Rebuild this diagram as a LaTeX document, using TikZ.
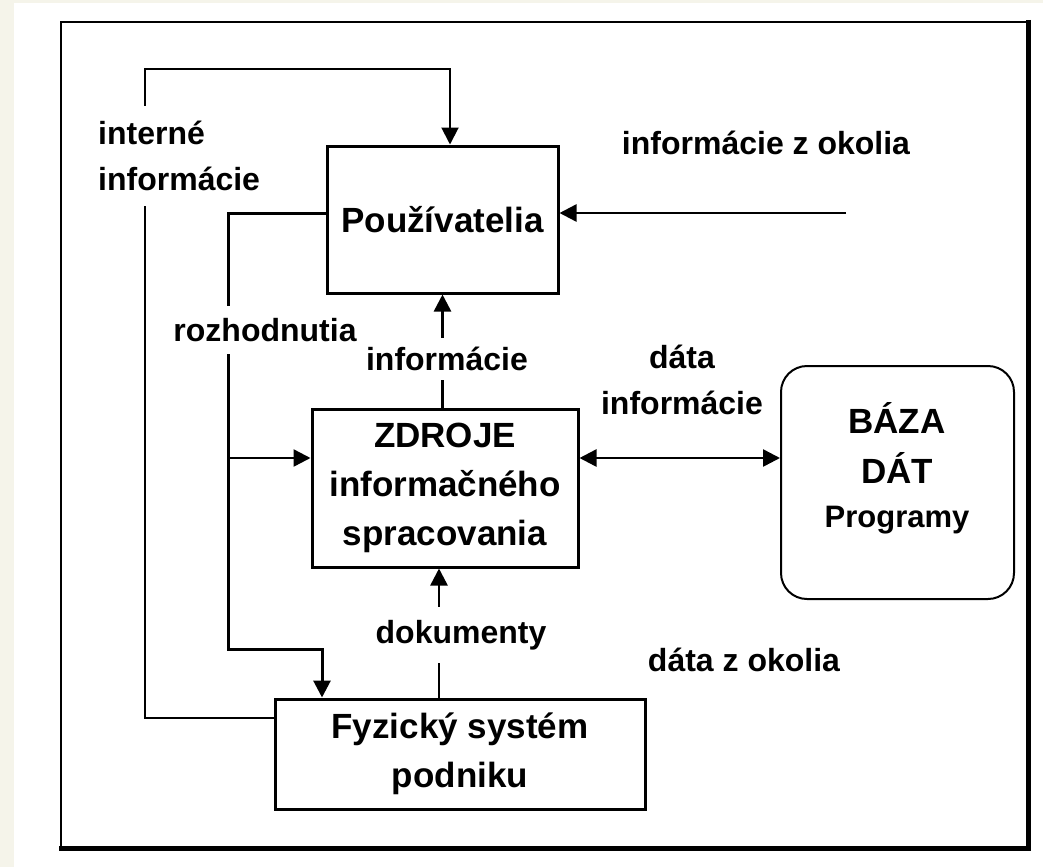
\documentclass[tikz,border=0pt]{standalone}
\usepackage{fontspec}
\setmainfont{Liberation Sans}
\usetikzlibrary{arrows.meta}
\definecolor{cream}{HTML}{F5F4EA}
\begin{document}
\begin{tikzpicture}[x=1pt,y=-1pt,
  >={Triangle[length=17pt,width=17pt]},
  box/.style={draw, line width=3pt, inner sep=0pt, align=center,
    font=\bfseries\fontsize{35}{49}\selectfont},
  lbl/.style={fill=white, inner xsep=2pt, align=center,
    font=\bfseries\fontsize{32}{46}\selectfont},
  thin/.style={line width=2pt},
  thick/.style={line width=3pt},
  mid/.style={line width=2.5pt}]
% background
\fill[cream] (0,0) rectangle (1043,867);
\fill[white] (14,3) rectangle (1043,867);
\useasboundingbox (0,0) rectangle (1043,867);
% frame
\draw[line width=1.5pt] (61,22) rectangle (1027,847);
\draw[line width=5pt] (1028,20) -- (1028,848) -- (59,848);

% boxes
\node[box, minimum width=231pt, minimum height=147pt] (users) at (442.5,219.5) {Používatelia};
\node[box, minimum width=266pt, minimum height=158pt] (zdroje) at (445,488)
  {ZDROJE\\informačného\\spracovania};
\node[box, minimum width=370pt, minimum height=110pt] (fyz) at (460,754)
  {Fyzický systém\\podniku};
\node[draw, line width=2pt, rounded corners=26pt, minimum width=233pt,
  minimum height=233pt, inner sep=0pt] (baza) at (897.5,482.5) {};
\node[align=center, inner sep=0pt, font=\bfseries\fontsize{35}{50}\selectfont] (bazatext) at (897,468)
  {BÁZA\\DÁT\\[-6pt]{\fontsize{31}{44}\selectfont Programy}};

% coordinates
\coordinate (iy) at (0,718);
\coordinate (lp1) at (145,69);
\coordinate (lp2) at (450,69);
\coordinate (rtop) at (228,213);
\coordinate (rbot) at (228,649);
\coordinate (rdown) at (322,649);
\coordinate (my) at (0,458);
\coordinate (dk) at (439,0);
\coordinate (ext) at (846,213);

% interné informácie loop
\draw[thin, ->] (fyz.west |- iy) -| (lp1) -- (lp2) -- (lp2 |- users.north);
% rozhodnutia
\draw[thick, ->] (users.west |- rtop) -- (rtop) -- (rbot) -- (rdown) -- (rdown |- fyz.north);
\draw[mid, ->] (rbot |- my) -- (zdroje.west |- my);
% informácie up
\draw[mid, ->] (zdroje.north -| users.south) -- (users.south);
% dokumenty
\draw[mid, ->] (fyz.north -| dk) -- (zdroje.south -| dk);
% informácie z okolia
\draw[mid, ->] (ext) -- (users.east |- ext);
% dáta informácie
\draw[mid, <->] (zdroje.east |- my) -- (baza.west |- my);

% labels
\node[lbl, anchor=west, align=left, inner ysep=15pt] (lint) at (96,156) {interné\\informácie};
\node[lbl, inner ysep=12pt] (lroz) at (265,330) {rozhodnutia};
\node[lbl, inner ysep=9pt] (linf) at (447,359) {informácie};
\node[lbl, inner ysep=13pt] (ldok) at (461,635) {dokumenty};
\node[lbl, fill=none] (lokol) at (766,143) {informácie z okolia};
\node[lbl, fill=none] (ldata) at (682,380) {dáta\\informácie};
\node[lbl, fill=none] (ldokol) at (744,660) {dáta z okolia};
\end{tikzpicture}
\end{document}
